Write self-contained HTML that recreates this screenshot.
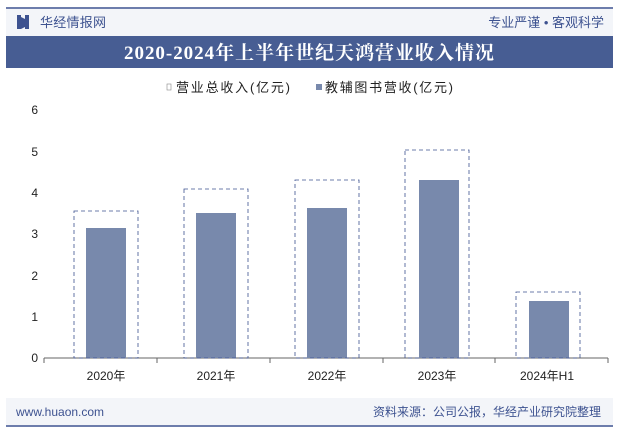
<!DOCTYPE html><html><head><meta charset="utf-8"><style>
body{margin:0;width:619px;height:433px;background:#fff;overflow:hidden;font-family:"Liberation Sans","Noto Sans CJK SC",sans-serif;}
</style></head><body>
<svg width="619" height="433" xmlns="http://www.w3.org/2000/svg" font-family="Liberation Sans, Noto Sans CJK SC, sans-serif">
<rect x="6" y="9" width="607" height="27" fill="#f3f5f9"/>
<line x1="6" y1="8" x2="613" y2="8" stroke="#3d5290" stroke-width="1.5"/>
<rect x="17" y="15" width="4" height="14" fill="#3d5290"/><rect x="25" y="15" width="4" height="14" fill="#3d5290"/><path d="M21 17 L25 19 V27 L21 29Z" fill="#3d5290"/>
<text x="40" y="27" font-size="13" fill="#3d5290" textLength="66">华经情报网</text>
<text x="604" y="27" font-size="13" fill="#3d5290" text-anchor="end">专业严谨 • 客观科学</text>
<rect x="6" y="36" width="607" height="32" fill="#475d93"/>
<text x="124" y="59" font-size="19" font-weight="bold" fill="#fff" textLength="370" font-family="Liberation Serif, Noto Serif CJK SC, serif">2020-2024年上半年世纪天鸿营业收入情况</text>
<rect x="167" y="84" width="4" height="6" fill="none" stroke="#888" stroke-width="0.6"/>
<text x="176" y="92" font-size="13" fill="#222" textLength="114">营业总收入(亿元)</text>
<rect x="316" y="84" width="6" height="6" fill="#7889ac"/>
<text x="325" y="92" font-size="13" fill="#222" textLength="128">教辅图书营收(亿元)</text>
<g font-size="12" fill="#222" text-anchor="end">
<text x="38" y="362">0</text><text x="38" y="321">1</text><text x="38" y="280">2</text><text x="38" y="238">3</text><text x="38" y="197">4</text><text x="38" y="156">5</text><text x="38" y="114">6</text></g>
<line x1="44" y1="358" x2="608" y2="358" stroke="#666"/>
<g stroke="#666"><line x1="44" y1="358" x2="44" y2="363"/><line x1="157" y1="358" x2="157" y2="363"/><line x1="270" y1="358" x2="270" y2="363"/><line x1="383" y1="358" x2="383" y2="363"/><line x1="495" y1="358" x2="495" y2="363"/><line x1="608" y1="358" x2="608" y2="363"/></g>
<g fill="#7889ac">
<rect x="86" y="228" width="40" height="130"/><rect x="196" y="213" width="40" height="145"/><rect x="307" y="208" width="40" height="150"/><rect x="419" y="180" width="40" height="178"/><rect x="529" y="301" width="40" height="57"/></g>
<g fill="none" stroke="#3d5290" stroke-dasharray="4,3" stroke-width="0.8">
<rect x="74" y="211" width="64" height="147"/><rect x="184" y="189" width="64" height="169"/><rect x="295" y="180" width="64" height="178"/><rect x="405" y="150" width="64" height="208"/><rect x="516" y="292" width="64" height="66"/></g>
<g font-size="12" fill="#222" text-anchor="middle">
<text x="106" y="380">2020年</text><text x="216" y="380">2021年</text><text x="327" y="380">2022年</text><text x="437" y="380">2023年</text><text x="547" y="380">2024年H1</text></g>
<rect x="6" y="398" width="607" height="27" fill="#f3f5f9"/>
<line x1="6" y1="426" x2="613" y2="426" stroke="#3d5290" stroke-width="1.5"/>
<text x="16" y="416" font-size="12" fill="#3d5290">www.huaon.com</text>
<text x="601" y="416" font-size="12" fill="#3d5290" text-anchor="end">资料来源：公司公报，华经产业研究院整理</text>
</svg></body></html>
